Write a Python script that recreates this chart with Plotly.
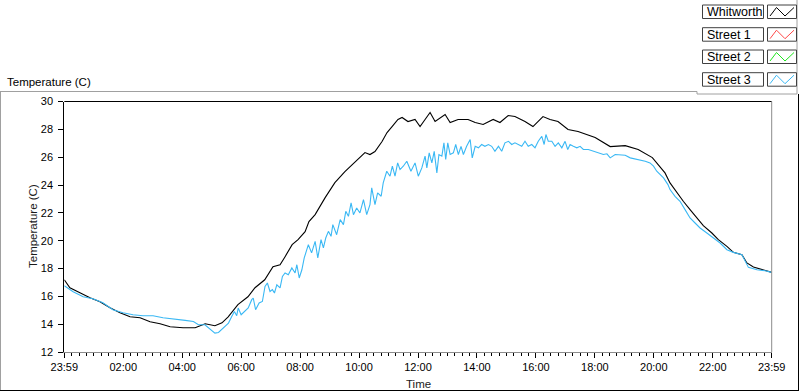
import plotly.graph_objects as go

W, H = 800, 392

# ---------------- data (hours after 23:59, temperature in C) ----------------
whit_hours = [0.00, 0.19, 0.53, 0.87, 1.21, 1.55, 1.89, 2.23, 2.57, 2.91, 3.25, 3.59, 4.03, 4.44,
              4.78, 5.11, 5.35, 5.56, 5.89, 6.23, 6.47, 6.80, 7.08, 7.32, 7.49, 7.73, 7.93, 8.17,
              8.30, 8.51, 8.85, 9.18, 9.52, 9.86, 10.03, 10.20, 10.37, 10.54, 10.78, 10.95, 11.12,
              11.32, 11.46, 11.66, 11.90, 12.07, 12.24, 12.41, 12.58, 12.92, 13.09, 13.36, 13.70,
              13.94, 14.21, 14.55, 14.78, 15.06, 15.29, 15.63, 15.90, 16.24, 16.48, 16.75, 17.09,
              17.43, 18.01, 18.52, 19.03, 19.47, 19.95, 20.21, 20.38, 20.55, 20.78, 21.00, 21.23,
              21.46, 21.68, 21.97, 22.19, 22.48, 22.70, 22.99, 23.16, 23.38, 23.72, 24.00]
whit_temp = [17.19, 16.62, 16.26, 15.90, 15.61, 15.18, 14.82, 14.53, 14.46, 14.17, 14.03, 13.81, 13.74, 13.74,
             14.03, 13.89, 14.10, 14.53, 15.40, 15.97, 16.62, 17.19, 18.13, 18.27, 18.85, 19.71, 20.07, 20.65,
             21.37, 21.87, 23.09, 24.17, 24.96, 25.68, 26.04, 26.33, 26.19, 26.40, 27.12, 27.77, 28.20,
             28.71, 28.85, 28.56, 28.71, 28.20, 28.71, 29.21, 28.56, 29.06, 28.49, 28.71, 28.71,
             28.49, 28.35, 28.71, 28.49, 28.99, 28.92, 28.56, 28.20, 28.92, 28.71, 28.56, 27.99,
             27.84, 27.41, 26.76, 26.83, 26.55, 25.97, 25.35, 24.87, 24.15, 23.43, 22.83, 22.23,
             21.63, 21.08, 20.55, 20.07, 19.59, 19.16, 18.99, 18.40, 18.11, 17.91, 17.72]

st3_hours = [0.00, 0.30, 0.64, 0.97, 1.31, 1.65, 1.99, 2.33, 2.67, 3.01, 3.35, 3.69, 4.10, 4.38,
             4.55, 4.77, 4.94, 5.11, 5.23, 5.40, 5.57, 5.68, 5.77, 5.85, 5.90, 6.00, 6.13, 6.24,
             6.36, 6.41, 6.49, 6.61, 6.72, 6.81, 6.89, 6.98, 7.06, 7.13, 7.21, 7.32, 7.40, 7.49,
             7.60, 7.72, 7.83, 7.89, 7.97, 8.06, 8.14, 8.23, 8.28, 8.39, 8.51, 8.60, 8.71, 8.79,
             8.87, 8.96, 9.05, 9.11, 9.24, 9.36, 9.47, 9.55, 9.64, 9.73, 9.81, 9.92, 10.03, 10.15,
             10.26, 10.37, 10.43, 10.54, 10.63, 10.75, 10.82, 10.94, 11.05, 11.13, 11.22, 11.31,
             11.39, 11.50, 11.62, 11.76, 11.90, 12.01, 12.13, 12.24, 12.30, 12.38, 12.47, 12.55,
             12.64, 12.71, 12.81, 12.88, 12.94, 13.01, 13.09, 13.20, 13.28, 13.37, 13.46, 13.54,
             13.65, 13.77, 13.84, 13.94, 14.05, 14.16, 14.27, 14.39, 14.50, 14.61, 14.73, 14.84,
             14.95, 15.07, 15.18, 15.29, 15.41, 15.52, 15.63, 15.74, 15.86, 15.97, 16.08, 16.20,
             16.28, 16.34, 16.42, 16.54, 16.65, 16.76, 16.88, 16.99, 17.08, 17.16, 17.27, 17.39,
             17.50, 17.61, 17.78, 17.95, 18.12, 18.29, 18.41, 18.52, 18.69, 18.86, 19.03, 19.20,
             19.37, 19.54, 19.71, 19.87, 19.99, 20.10, 20.21, 20.33, 20.48, 20.55, 20.72, 20.89,
             21.06, 21.23, 21.40, 21.57, 21.80, 22.02, 22.25, 22.48, 22.70, 22.99, 23.10, 23.21,
             23.50, 23.78, 24.00]
st3_temp = [16.76, 16.33, 15.97, 15.83, 15.54, 15.04, 14.82, 14.68, 14.60, 14.60, 14.46, 14.39, 14.27, 14.19,
            13.96, 13.96, 13.65, 13.36, 13.40, 13.72, 14.08, 14.55, 14.91, 14.61, 15.16, 14.68, 14.91, 15.16,
            15.76, 15.88, 15.04, 15.52, 15.63, 16.71, 16.96, 16.35, 16.48, 16.24, 16.83, 16.60, 17.43, 17.68,
            17.55, 18.04, 17.68, 18.27, 17.32, 17.91, 18.76, 19.48, 19.71, 19.12, 19.95, 18.76, 20.07, 19.48,
            20.19, 20.67, 20.31, 21.15, 20.43, 21.51, 21.15, 22.11, 21.75, 22.71, 21.87, 22.35, 21.99, 22.95,
            21.87, 22.59, 23.79, 22.59, 23.43, 23.19, 24.15, 24.99, 24.63, 25.35, 24.63, 25.59,
            25.11, 25.35, 25.71, 24.99, 25.59, 24.63, 25.23, 26.07, 25.23, 26.31, 25.59, 26.42,
            24.87, 26.19, 26.07, 27.03, 25.83, 27.03, 26.19, 26.31, 26.91, 26.19, 26.78, 26.19,
            26.78, 27.27, 25.95, 26.78, 26.67, 26.91, 26.78, 26.91, 26.78, 26.42, 26.78, 26.42,
            27.03, 27.14, 26.91, 27.03, 26.91, 26.78, 27.14, 26.78, 26.91, 26.67, 27.14, 27.50,
            26.91, 27.63, 27.14, 27.14, 26.78, 27.03, 26.67, 27.14, 26.55, 26.91, 26.78, 26.67,
            26.78, 26.55, 26.55, 26.42, 26.31, 26.19, 26.24, 25.95, 26.19, 26.14, 26.14, 25.95,
            25.88, 25.83, 25.71, 25.59, 25.35, 24.99, 24.75, 24.51, 24.03, 23.67, 23.19, 22.83,
            22.23, 21.63, 21.27, 20.91, 20.55, 20.19, 19.83, 19.35, 19.16, 18.99, 18.51, 18.08,
            17.91, 17.84, 17.72]

series_names = ["Whitworth", "Street 1", "Street 2", "Street 3"]
x_tick_hours = [0, 2, 4, 6, 8, 10, 12, 14, 16, 18, 20, 22, 24]
x_tick_labels = ["23:59", "02:00", "04:00", "06:00", "08:00", "10:00", "12:00",
                 "14:00", "16:00", "18:00", "20:00", "22:00", "23:59"]
y_ticks = [12, 14, 16, 18, 20, 22, 24, 26, 28, 30]

# ---------------- styles ----------------
series_colors = {"Whitworth": "#000000", "Street 1": "#ff4848",
                 "Street 2": "#1ee61e", "Street 3": "#3ab8f4"}
FONT = "Liberation Sans, Arial, sans-serif"


def px(x):
    return x / W


def py(y):
    return 1 - y / H


PLOT_L, PLOT_R, PLOT_T, PLOT_B = 64.3, 771.7, 101.5, 352.0

fig = go.Figure()
fig.add_trace(go.Scatter(x=whit_hours, y=whit_temp, mode="lines", name="Whitworth",
                         line=dict(color=series_colors["Whitworth"], width=1.1)))
fig.add_trace(go.Scatter(x=st3_hours, y=st3_temp, mode="lines", name="Street 3",
                         line=dict(color=series_colors["Street 3"], width=1.1)))

shapes = []


def hline(x0, x1, y, color):
    shapes.append(dict(type="line", xref="paper", yref="paper", x0=px(x0), x1=px(x1),
                       y0=py(y), y1=py(y), line=dict(color=color, width=1)))


def vline(x, y0, y1, color):
    shapes.append(dict(type="line", xref="paper", yref="paper", x0=px(x), x1=px(x),
                       y0=py(y0), y1=py(y1), line=dict(color=color, width=1)))


# outer frame
hline(0, 697, 91.5, "#a0a0a0")
vline(0.5, 91.5, 390, "#a0a0a0")
vline(697, 91.5, 94, "#a0a0a0")
hline(697, 797, 94, "#a0a0a0")
vline(797, 0, 94, "#a0a0a0")
vline(798.5, 94, 390.5, "#000000")
hline(0, 799, 390.5, "#000000")
# plot frame (top black, right gray)
hline(PLOT_L, PLOT_R, PLOT_T, "#000000")
vline(PLOT_R, PLOT_T, PLOT_B, "#8c8c8c")

annotations = []

# custom legend
row_tops = [5, 27.7, 50, 72.7]
row_h = 13.5
for name, top in zip(series_names, row_tops):
    shapes.append(dict(type="rect", xref="paper", yref="paper",
                       x0=px(702.5), x1=px(763.5), y0=py(top), y1=py(top + row_h),
                       line=dict(color="#404040", width=1), fillcolor="white"))
    shapes.append(dict(type="rect", xref="paper", yref="paper",
                       x0=px(767.5), x1=px(796.5), y0=py(top), y1=py(top + row_h),
                       line=dict(color="#404040", width=1), fillcolor="white"))
    b, t = top + row_h - 2.5, top + 2.5
    path = "M {},{} L {},{} L {},{} L {},{}".format(
        px(770), py(b), px(776.5), py(t), px(785), py(b), px(794), py(t))
    shapes.append(dict(type="path", xref="paper", yref="paper", path=path,
                       line=dict(color=series_colors[name], width=1)))
    annotations.append(dict(text=name, xref="paper", yref="paper", x=px(704.5),
                            y=py(top + row_h / 2 + 0.5), xanchor="left", yanchor="middle",
                            showarrow=False, font=dict(family=FONT, size=12.5, color="#000000")))

annotations.append(dict(text="Temperature (C)", xref="paper", yref="paper", x=px(5), y=py(82),
                        xanchor="left", yanchor="middle", showarrow=False,
                        font=dict(family=FONT, size=11.5, color="#000000")))
annotations.append(dict(text="Temperature (C)", xref="paper", yref="paper", x=px(33), y=py(226),
                        xanchor="center", yanchor="middle", textangle=-90, showarrow=False,
                        font=dict(family=FONT, size=11.5, color="#1a1a1a")))
annotations.append(dict(text="Time", xref="paper", yref="paper", x=px(418), y=py(384),
                        xanchor="center", yanchor="middle", showarrow=False,
                        font=dict(family=FONT, size=11.5, color="#1a1a1a")))

fig.update_layout(
    width=W, height=H,
    margin=dict(l=0, r=0, t=0, b=0, pad=0, autoexpand=False),
    paper_bgcolor="white", plot_bgcolor="white",
    showlegend=False, hovermode=False,
    shapes=shapes, annotations=annotations,
    xaxis=dict(domain=[px(PLOT_L), px(PLOT_R)], range=[0, 24], automargin=False,
               tickmode="array", tickvals=x_tick_hours, ticktext=x_tick_labels,
               ticks="outside", ticklen=5, tickwidth=1, tickcolor="#000000",
               showline=True, linecolor="#8c8c8c", linewidth=1,
               showgrid=False, zeroline=False,
               minor=dict(tickmode="linear", tick0=0, dtick=0.25, ticks="outside",
                          ticklen=3, tickwidth=1, tickcolor="#000000", showgrid=False),
               tickfont=dict(family=FONT, size=11, color="#000000")),
    yaxis=dict(domain=[py(PLOT_B), py(PLOT_T)], range=[12, 30], automargin=False,
               tickmode="array", tickvals=y_ticks,
               ticks="outside", ticklen=5, tickwidth=1, tickcolor="#000000",
               showline=True, linecolor="#000000", linewidth=1,
               showgrid=False, zeroline=False, ticklabelstandoff=3,
               tickfont=dict(family=FONT, size=11, color="#000000")),
)

fig.write_html("out.html", config={"displayModeBar": False, "staticPlot": True},
               post_script="document.body.style.margin='0';document.body.style.padding='0';")
